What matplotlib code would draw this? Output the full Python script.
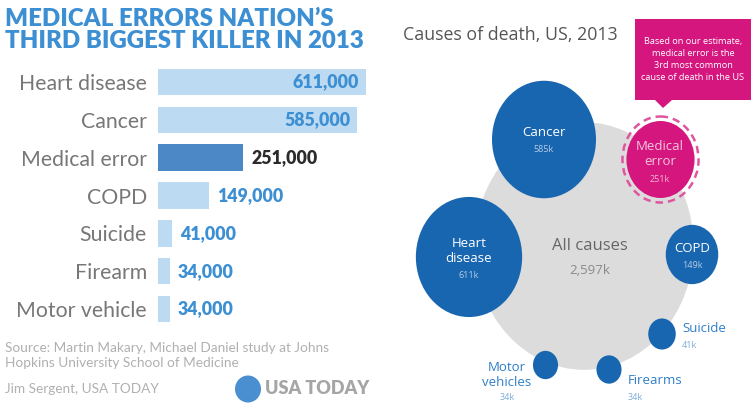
import numpy as np
import matplotlib.pyplot as plt
from matplotlib.patches import Ellipse, Polygon

# Bar chart data (deaths, thousands)
causes = ['Heart disease', 'Cancer', 'Medical error', 'COPD', 'Suicide', 'Firearm', 'Motor vehicle']
deaths = [611, 585, 251, 149, 41, 34, 34]
value_labels = ['611,000', '585,000', '251,000', '149,000', '41,000', '34,000', '34,000']

# Bubble chart data (deaths, thousands)
bubble_names = ['All causes', 'Cancer', 'Heart\ndisease', 'Medical\nerror', 'COPD', 'Suicide', 'Firearms', 'Motor\nvehicles']
bubble_values = [2597, 585, 611, 251, 149, 41, 34, 34]
bubble_value_labels = ['2,597k', '585k', '611k', '251k', '149k', '41k', '34k', '34k']

W, H = 751, 403
BLUE_TXT = '#3d8fd3'
LIGHT_BAR = '#bcdaf1'
DARK_BAR = '#4c88c6'
BUBBLE = '#1966b0'
PINK = '#d6167f'

fig = plt.figure(figsize=(W / 100, H / 100), dpi=100)
fig.patch.set_facecolor('white')

# pixel-space canvas for decorations and bubbles
canvas = fig.add_axes([0, 0, 1, 1])
canvas.set_xlim(0, W)
canvas.set_ylim(H, 0)
canvas.axis('off')

# ---- left: title ----
canvas.text(5, 19, 'MEDICAL ERRORS NATION\u2019S', fontsize=17.3, fontweight='heavy',
            family='Lato', color=BLUE_TXT, va='center', ha='left')
canvas.text(5, 41, 'THIRD BIGGEST KILLER IN 2013', fontsize=17.3, fontweight='heavy',
            family='Lato', color=BLUE_TXT, va='center', ha='left')

# ---- left: bar chart ----
px_per_k = 208 / 611
bar_left, bar_w = 158, 230
top_px, bot_px = 63.1, 328.0
axb = fig.add_axes([bar_left / W, 1 - bot_px / H, bar_w / W, (bot_px - top_px) / H])
axb.set_xlim(0, bar_w / px_per_k)
axb.set_ylim(len(causes) - 0.5, -0.5)
ypos = np.arange(len(causes))
colors = [DARK_BAR if c == 'Medical error' else LIGHT_BAR for c in causes]
axb.barh(ypos, deaths, height=0.70, color=colors)
axb.set_yticks(ypos)
axb.set_yticklabels(causes, fontsize=15.3, color='#777777', family='Lato', fontweight='normal')
axb.tick_params(axis='y', length=0, pad=8)
axb.set_xticks([])
for s in axb.spines.values():
    s.set_visible(False)
axb.patch.set_alpha(0)

for i, (v, lab, c) in enumerate(zip(deaths, value_labels, causes)):
    col = '#2b2b2b' if c == 'Medical error' else BLUE_TXT
    if v > 400:
        axb.annotate(lab, (v, i), xytext=(-5, 0), textcoords='offset points',
                     ha='right', va='center', fontsize=12.8, fontweight='heavy',
                     family='Lato', color=col)
    else:
        axb.annotate(lab, (v, i), xytext=(6, 0), textcoords='offset points',
                     ha='left', va='center', fontsize=12.8, fontweight='heavy',
                     family='Lato', color=col)

# ---- left: footer ----
foot_kw = dict(fontsize=9.8, family='Lato', fontweight='normal', color='#b0b0b0', va='center')
canvas.text(5, 348, 'Source: Martin Makary, Michael Daniel study at Johns', **foot_kw)
canvas.text(5, 363, 'Hopkins University School of Medicine', **foot_kw)
canvas.text(5, 389, 'Jim Sergent, USA TODAY', **foot_kw)
canvas.add_patch(Ellipse((248, 389), 26, 27, color='#4a90d0', lw=0))
canvas.text(265, 389, 'USA TODAY', fontsize=13, fontweight='heavy', family='Lato',
            color='#a5a5a5', va='center', ha='left')

# ---- right: bubble chart ----
canvas.text(403, 35, 'Causes of death, US, 2013', fontsize=12.8, family='Open Sans',
            color='#555555', va='center', ha='left')

# callout box
canvas.add_patch(Polygon([[635, 19], [751, 19], [751, 100], [672, 100], [663, 108],
                          [655, 100], [635, 100]], closed=True, color=PINK, lw=0))
canvas.text(693, 59.5, 'Based on our estimate,\nmedical error is the\n3rd most common\ncause of death in the US',
            fontsize=6.6, family='Open Sans', color='white', ha='center', va='center',
            linespacing=1.4)

# bubble centres (px) and radius scale
centers = [(584, 246), (544, 139.5), (469, 257), (660.5, 159.5), (692, 254.5),
           (662, 334), (609, 369.5), (545.5, 365)]
r_scale = 2.15
y_stretch = 1.13
fills = ['#dcdcdc', BUBBLE, BUBBLE, PINK, BUBBLE, BUBBLE, BUBBLE, BUBBLE]
for (cx, cy), v, fc in zip(centers, bubble_values, fills):
    r = r_scale * np.sqrt(v)
    canvas.add_patch(Ellipse((cx, cy), 2 * r, 2 * r * y_stretch, color=fc, lw=0))

# dashed ring around medical error
r_me = r_scale * np.sqrt(bubble_values[3]) + 4
canvas.add_patch(Ellipse(centers[3], 2 * r_me, 2 * r_me * y_stretch, fill=False,
                         ec='#e0559f', lw=1.8, ls=(0, (3, 2))))

name_kw = dict(family='Open Sans', ha='center', va='center', linespacing=1.2)
# labels inside bubbles
canvas.text(590, 246, bubble_names[0], fontsize=12, color='#666666', **name_kw)
canvas.text(590, 270, bubble_value_labels[0], fontsize=9.5, color='#8a8a8a', **name_kw)
canvas.text(544, 133, bubble_names[1], fontsize=9.5, color='white', **name_kw)
canvas.text(544, 150, bubble_value_labels[1], fontsize=6.5, color='#b7cde6', **name_kw)
canvas.text(469, 251, bubble_names[2], fontsize=9.5, color='white', **name_kw)
canvas.text(469, 275, bubble_value_labels[2], fontsize=6.5, color='#b7cde6', **name_kw)
canvas.text(660, 154, bubble_names[3], fontsize=9.5, color='#f5c6de', **name_kw)
canvas.text(660, 179, bubble_value_labels[3], fontsize=6.5, color='#f2b5d4', **name_kw)
canvas.text(692, 249, bubble_names[4], fontsize=9.5, color='white', **name_kw)
canvas.text(692, 265, bubble_value_labels[4], fontsize=6.5, color='#b7cde6', **name_kw)

# labels beside small bubbles
side_kw = dict(family='Open Sans', va='center', linespacing=1.2)
canvas.text(682, 328, bubble_names[5], fontsize=9.5, color='#2f7fc8', ha='left', **side_kw)
canvas.text(682, 345, bubble_value_labels[5], fontsize=6.5, color='#7aaad8', ha='left', **side_kw)
canvas.text(628, 380, bubble_names[6], fontsize=9.5, color='#2f7fc8', ha='left', **side_kw)
canvas.text(628, 397, bubble_value_labels[6], fontsize=6.5, color='#7aaad8', ha='left', **side_kw)
canvas.text(507, 375, bubble_names[7], fontsize=9.5, color='#2f7fc8', ha='center', **side_kw)
canvas.text(507, 397, bubble_value_labels[7], fontsize=6.5, color='#7aaad8', ha='center', **side_kw)

fig.savefig('out.png', dpi=100)
